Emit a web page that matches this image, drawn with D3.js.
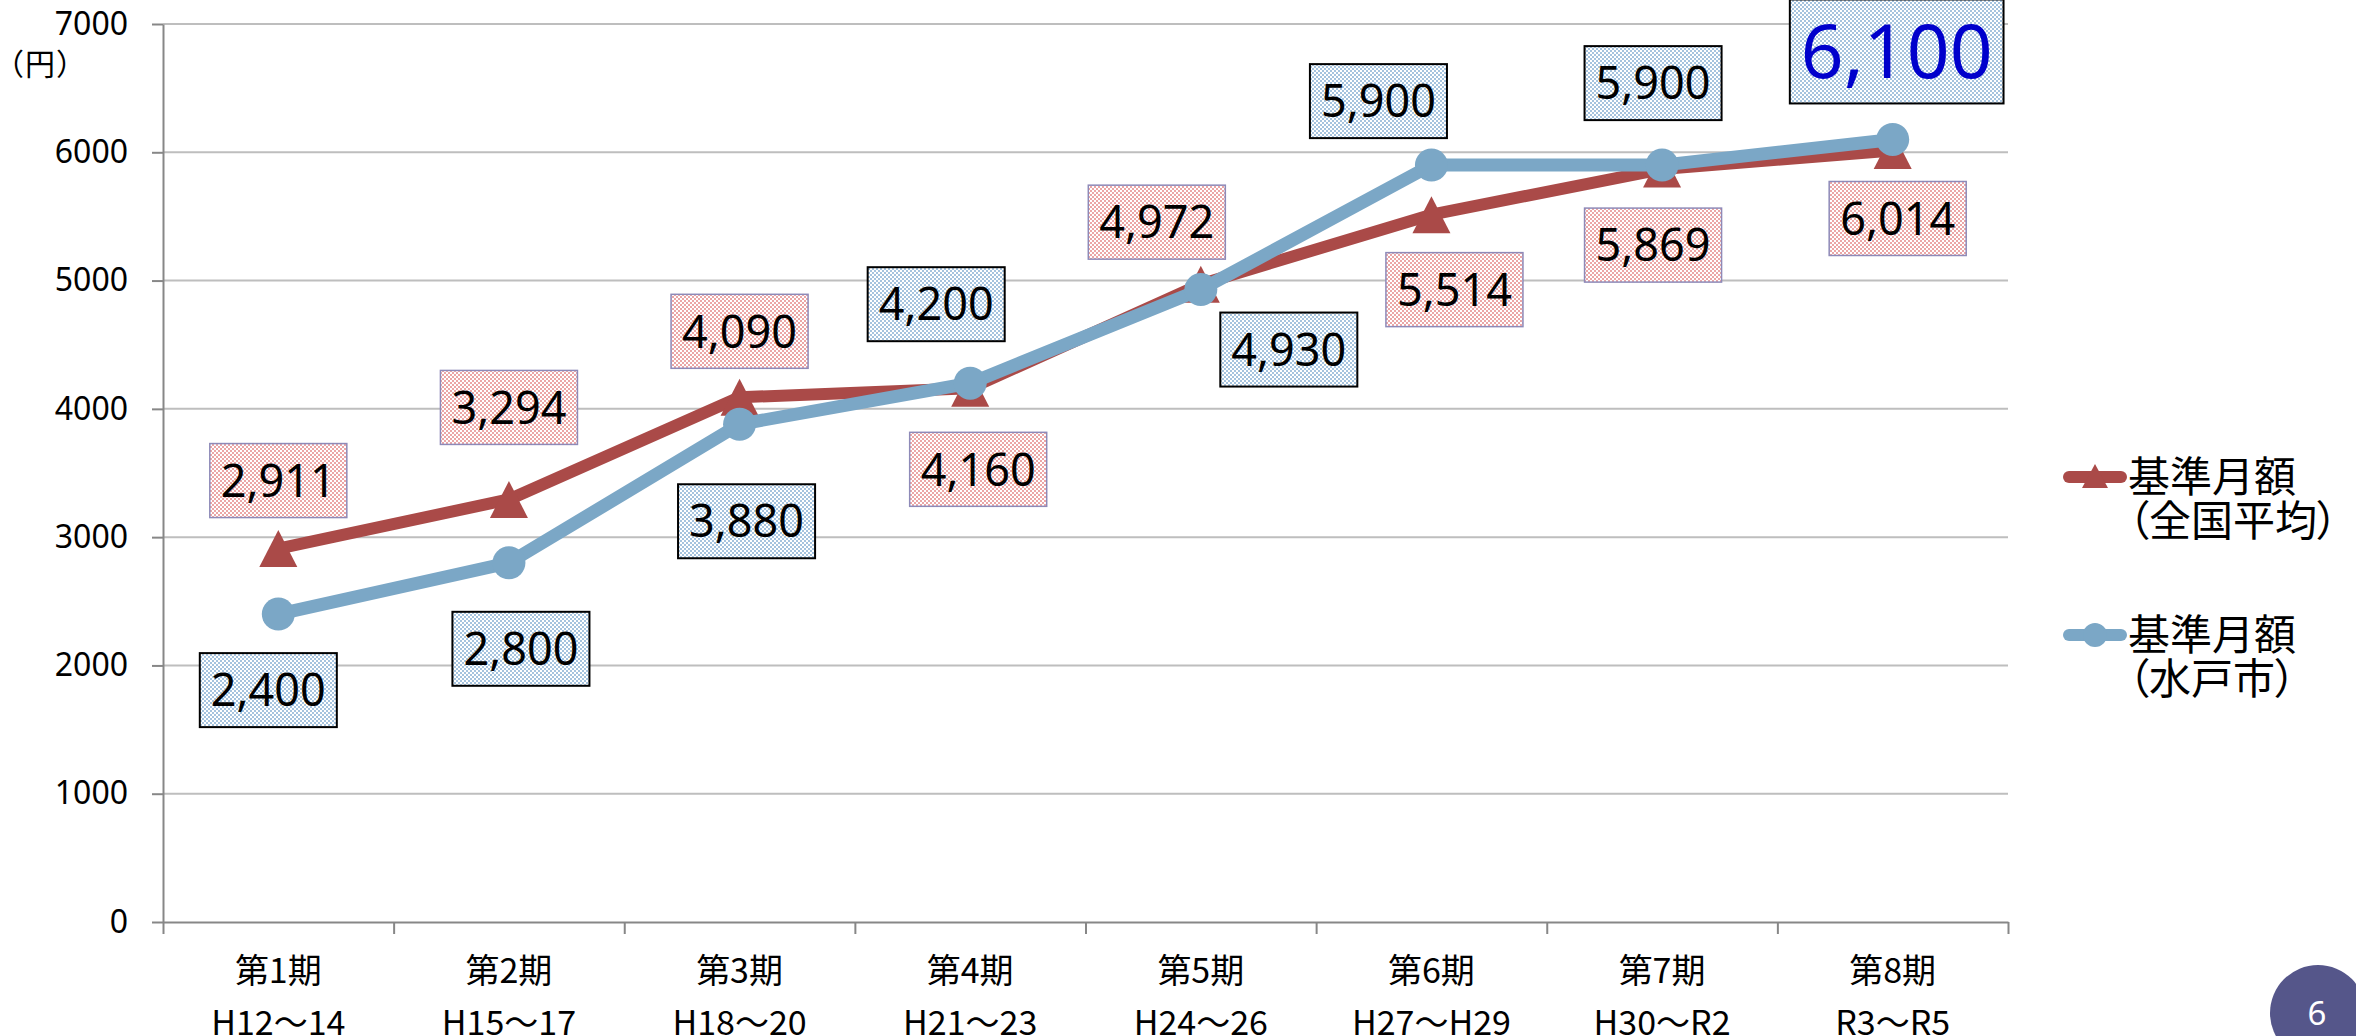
<!DOCTYPE html>
<html>
<head>
<meta charset="utf-8">
<script src="https://cdn.jsdelivr.net/npm/d3@7"></script>
<style>
  body { margin: 0; background: #fff; }
  svg { display: block; }
  .cjk { font-family: "Noto Sans CJK JP", sans-serif; font-feature-settings: "palt"; }
  .num { font-family: "Noto Sans", sans-serif; }
</style>
</head>
<body>
<div id="chart"></div>
<script>
// data
const PERIODS = ["第1期", "第2期", "第3期", "第4期", "第5期", "第6期", "第7期", "第8期"];
const YEARS = ["H12～14", "H15～17", "H18～20", "H21～23", "H24～26", "H27～H29", "H30～R2", "R3～R5"];
const NATIONAL = [2911, 3294, 4090, 4160, 4972, 5514, 5869, 6014];
const MITO = [2400, 2800, 3880, 4200, 4930, 5900, 5900, 6100];
const Y_TICKS = [0, 1000, 2000, 3000, 4000, 5000, 6000, 7000];
const LEGEND = [["基準月額", "（全国平均）"], ["基準月額", "（水戸市）"]];

// label placement relative to each point (layout only)
const NATIONAL_OFFSETS = [[0, -68], [0, -92], [0, -66], [8, 81], [-44, -62], [23, 75], [-9, 76], [5, 68]];
const MITO_OFFSETS = [[-10, 76], [12, 86], [7, 97], [-34, -79], [88, 60], [-53, -64], [-9, -82], [4, -88]];

const WIDTH = 2356;
const HEIGHT = 1036;
const X_LEFT = 163;
const X_RIGHT = 2008;
const Y_TOP = 24;
const Y_BOTTOM = 922;
const RED = "#AA4A48";
const BLUE = "#7BA7C6";
const AXIS_COLOR = "#878787";
const GRID_COLOR = "#BEBEBE";

var svg, xScale, xEdge, yScale;

function cx(i) {
  return xScale(PERIODS[i]) + xScale.bandwidth() / 2;
}

function triangle(w, h) {
  return `M0,${-h / 2}L${w / 2},${h / 2}L${-w / 2},${h / 2}Z`;
}

function renderLayout() {
  svg = d3.select("#chart").append("svg")
    .attr("width", WIDTH)
    .attr("height", HEIGHT);

  var defs = svg.append("defs");
  [["pinkDots", "#EBA6A6"], ["blueDots", "#A5C3DE"]].forEach(p => {
    var pat = defs.append("pattern")
      .attr("id", p[0])
      .attr("width", 4).attr("height", 4)
      .attr("patternUnits", "userSpaceOnUse");
    pat.append("rect").attr("width", 4).attr("height", 4).attr("fill", "#fff");
    pat.append("rect").attr("width", 2).attr("height", 2).attr("fill", p[1]);
    pat.append("rect").attr("x", 2).attr("y", 2).attr("width", 2).attr("height", 2).attr("fill", p[1]);
  });

  xScale = d3.scaleBand().domain(PERIODS).range([X_LEFT, X_RIGHT]);
  xEdge = d3.scaleLinear().domain([0, PERIODS.length]).range([X_LEFT, X_RIGHT]);
  yScale = d3.scaleLinear().domain([0, 7000]).range([Y_BOTTOM, Y_TOP]);
}

function renderAxes() {
  svg.append("g")
    .selectAll("line")
    .data(Y_TICKS.filter(v => v > 0))
    .join("line")
    .attr("x1", X_LEFT).attr("x2", X_RIGHT)
    .attr("y1", d => yScale(d)).attr("y2", d => yScale(d))
    .attr("stroke", GRID_COLOR)
    .attr("stroke-width", 2);

  var yAxis = svg.append("g")
    .attr("transform", `translate(${X_LEFT},0)`)
    .call(d3.axisLeft(yScale)
      .tickValues(Y_TICKS)
      .tickFormat(d3.format("d"))
      .tickSize(11)
      .tickSizeOuter(0)
      .tickPadding(24));
  yAxis.selectAll("path, line").attr("stroke", AXIS_COLOR).attr("stroke-width", 2);
  yAxis.selectAll("text")
    .attr("class", "num")
    .attr("font-size", 32)
    .attr("fill", "#000");

  var xAxis = svg.append("g")
    .attr("transform", `translate(0,${Y_BOTTOM})`)
    .call(d3.axisBottom(xEdge).tickValues(d3.range(PERIODS.length + 1)).tickSize(12).tickSizeOuter(0).tickFormat(""));
  xAxis.selectAll("path, line").attr("stroke", AXIS_COLOR).attr("stroke-width", 2);

  var cats = svg.append("g")
    .selectAll("g")
    .data(PERIODS)
    .join("g")
    .attr("class", "cjk")
    .attr("text-anchor", "middle")
    .attr("font-size", 34);
  cats.append("text")
    .attr("x", (d, i) => cx(i))
    .attr("y", 983)
    .text(d => d);
  cats.append("text")
    .attr("x", (d, i) => cx(i))
    .attr("y", 1035)
    .text((d, i) => YEARS[i]);

  svg.append("text")
    .attr("class", "cjk")
    .attr("x", 8)
    .attr("y", 75)
    .attr("font-size", 30)
    .attr("letter-spacing", 2)
    .text("（円）");
}

function renderSeries(values, color, width, marker) {
  var line = d3.line()
    .x((d, i) => cx(i))
    .y(d => yScale(d));

  svg.append("path")
    .datum(values)
    .attr("d", line)
    .attr("fill", "none")
    .attr("stroke", color)
    .attr("stroke-width", width)
    .attr("stroke-linejoin", "round");

  var marks = svg.append("g")
    .selectAll("g")
    .data(values)
    .join("g")
    .attr("transform", (d, i) => `translate(${cx(i)},${yScale(d)})`);
  if (marker == "triangle") {
    marks.append("path").attr("d", triangle(38, 37)).attr("fill", color);
  } else {
    marks.append("circle").attr("r", 16.5).attr("fill", color);
  }
}

function renderLabels(values, offsets, fill, border, borderWidth) {
  values.forEach((v, i) => {
    var big = (values == MITO && i == values.length - 1);
    var size = big ? 75 : 45;
    var x = cx(i) + offsets[i][0];
    var y = yScale(v) + offsets[i][1];
    var g = svg.append("g");
    var rect = g.append("rect");
    var text = g.append("text")
      .attr("class", "num")
      .attr("x", x)
      .attr("y", y)
      .attr("dy", "0.36em")
      .attr("text-anchor", "middle")
      .attr("font-size", size)
      .attr("fill", big ? "#0000CC" : "#000")
      .text(d3.format(",")(v));
    var w = text.node().getComputedTextLength() + 22;
    var h = size + 29;
    rect.attr("x", x - w / 2)
      .attr("y", y - h / 2)
      .attr("width", w)
      .attr("height", h)
      .attr("fill", fill)
      .attr("stroke", border)
      .attr("stroke-width", borderWidth);
  });
}

function renderLegend() {
  var items = [
    { y: 477, color: RED, marker: "triangle", text: LEGEND[0] },
    { y: 635, color: BLUE, marker: "circle", text: LEGEND[1] }
  ];
  items.forEach(item => {
    var g = svg.append("g");
    g.append("line")
      .attr("x1", 2069).attr("x2", 2121)
      .attr("y1", item.y).attr("y2", item.y)
      .attr("stroke", item.color)
      .attr("stroke-width", 12)
      .attr("stroke-linecap", "round");
    if (item.marker == "triangle") {
      g.append("path")
        .attr("transform", `translate(2095,${item.y - 1})`)
        .attr("d", triangle(26, 24))
        .attr("fill", item.color);
    } else {
      g.append("circle")
        .attr("cx", 2095).attr("cy", item.y)
        .attr("r", 12)
        .attr("fill", item.color);
    }
    var t = g.append("text")
      .attr("class", "cjk")
      .attr("font-size", 42)
      .attr("fill", "#000");
    item.text.forEach((s, k) => {
      t.append("tspan")
        .attr("x", 2128)
        .attr("y", item.y + 15 + k * 44)
        .text(s);
    });
  });
}

function renderPageNumber() {
  svg.append("circle")
    .attr("cx", 2318).attr("cy", 1013)
    .attr("r", 48)
    .attr("fill", "#55568A");
  svg.append("text")
    .attr("class", "num")
    .attr("x", 2317).attr("y", 1025)
    .attr("text-anchor", "middle")
    .attr("font-size", 33)
    .attr("fill", "#fff")
    .text("6");
}

renderLayout();
renderAxes();
renderSeries(NATIONAL, RED, 12, "triangle");
renderSeries(MITO, BLUE, 13, "circle");
renderLabels(NATIONAL, NATIONAL_OFFSETS, "url(#pinkDots)", "#8E8AB8", 1.5);
renderLabels(MITO, MITO_OFFSETS, "url(#blueDots)", "#000", 2);
renderLegend();
renderPageNumber();
</script>
</body>
</html>
